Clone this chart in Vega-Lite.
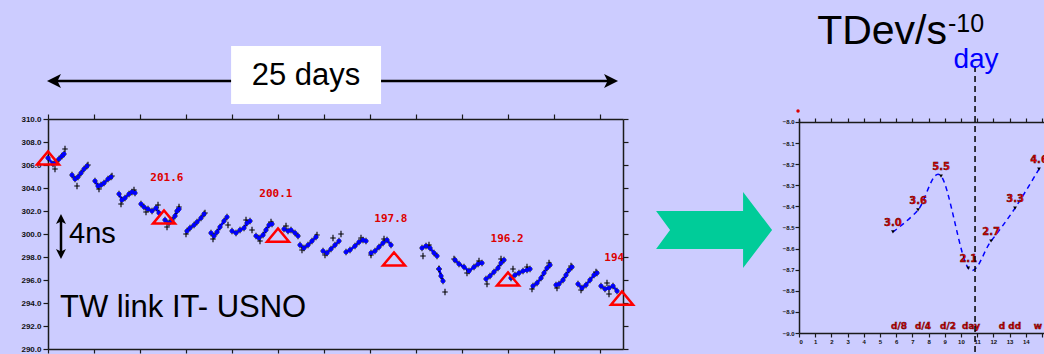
{
  "$schema": "https://vega.github.io/schema/vega-lite/v6.json",
  "background": "#CCCCFF",
  "padding": {"top": 10, "left": 20, "right": 0, "bottom": 0},
  "bounds": "flush",
  "spacing": 176,
  "config": {
    "view": {"stroke": null},
    "font": "Liberation Sans",
    "axis": {"grid": false, "domainColor": "#1a1a1a", "tickColor": "#1a1a1a", "labelColor": "#111111", "labelFont": "Liberation Sans", "labelFontWeight": "bold", "domainWidth": 1.5, "tickWidth": 1.2}
  },
  "datasets": {
    "pts": [
      {"s":0,"d":0,"v":306.61,"k":"b"},{"s":0,"d":0.217,"v":306.09,"k":"b"},{"s":0,"d":0.348,"v":306.26,"k":"b"},{"s":0,"d":0.478,"v":306.52,"k":"b"},{"s":0,"d":0.609,"v":306.78,"k":"b"},{"s":0,"d":0.696,"v":306.96,"k":"b"},{"s":0,"d":0.739,"v":307.39,"k":"x"},{"s":0,"d":0.304,"v":305.65,"k":"x"},
      {"s":1,"d":1.043,"v":305.13,"k":"b"},{"s":1,"d":1.174,"v":304.78,"k":"b"},{"s":1,"d":1.304,"v":304.96,"k":"b"},{"s":1,"d":1.435,"v":305.30,"k":"b"},{"s":1,"d":1.565,"v":305.65,"k":"b"},{"s":1,"d":1.696,"v":305.91,"k":"b"},{"s":1,"d":1.261,"v":304.17,"k":"x"},{"s":1,"d":1.739,"v":306.0,"k":"x"},
      {"s":2,"d":2.043,"v":304.61,"k":"b"},{"s":2,"d":2.174,"v":304.17,"k":"b"},{"s":2,"d":2.304,"v":304.26,"k":"b"},{"s":2,"d":2.435,"v":304.43,"k":"b"},{"s":2,"d":2.609,"v":304.78,"k":"b"},{"s":2,"d":2.739,"v":304.96,"k":"b"},{"s":2,"d":2.217,"v":303.91,"k":"x"},{"s":2,"d":2.783,"v":305.04,"k":"x"},
      {"s":3,"d":3.087,"v":303.48,"k":"b"},{"s":3,"d":3.217,"v":302.96,"k":"b"},{"s":3,"d":3.348,"v":303.13,"k":"b"},{"s":3,"d":3.522,"v":303.48,"k":"b"},{"s":3,"d":3.652,"v":303.65,"k":"b"},{"s":3,"d":3.783,"v":303.57,"k":"b"},{"s":3,"d":3.174,"v":302.61,"k":"x"},{"s":3,"d":3.739,"v":303.83,"k":"x"},
      {"s":4,"d":4.043,"v":302.61,"k":"b"},{"s":4,"d":4.174,"v":302.35,"k":"b"},{"s":4,"d":4.348,"v":302.17,"k":"b"},{"s":4,"d":4.522,"v":302.0,"k":"b"},{"s":4,"d":4.696,"v":302.26,"k":"b"},{"s":4,"d":4.826,"v":301.83,"k":"b"},{"s":4,"d":4.261,"v":301.91,"k":"x"},{"s":4,"d":4.783,"v":302.52,"k":"x"},
      {"s":5,"d":5.087,"v":301.22,"k":"b"},{"s":5,"d":5.261,"v":300.96,"k":"b"},{"s":5,"d":5.391,"v":301.22,"k":"b"},{"s":5,"d":5.522,"v":301.57,"k":"b"},{"s":5,"d":5.609,"v":302.0,"k":"b"},{"s":5,"d":5.696,"v":302.17,"k":"b"},{"s":5,"d":5.696,"v":302.35,"k":"x"},{"s":5,"d":5.174,"v":300.61,"k":"x"},
      {"s":6,"d":6.043,"v":300.26,"k":"b"},{"s":6,"d":6.174,"v":300.52,"k":"b"},{"s":6,"d":6.348,"v":300.78,"k":"b"},{"s":6,"d":6.478,"v":301.04,"k":"b"},{"s":6,"d":6.652,"v":301.39,"k":"b"},{"s":6,"d":6.783,"v":301.74,"k":"b"},{"s":6,"d":6.0,"v":300.0,"k":"x"},{"s":6,"d":6.826,"v":301.83,"k":"x"},
      {"s":7,"d":7.087,"v":300.09,"k":"b"},{"s":7,"d":7.217,"v":299.83,"k":"b"},{"s":7,"d":7.348,"v":300.17,"k":"b"},{"s":7,"d":7.478,"v":300.61,"k":"b"},{"s":7,"d":7.652,"v":301.13,"k":"b"},{"s":7,"d":7.783,"v":301.48,"k":"b"},{"s":7,"d":7.174,"v":299.57,"k":"x"},{"s":7,"d":7.826,"v":300.78,"k":"x"},
      {"s":8,"d":8.0,"v":300.26,"k":"b"},{"s":8,"d":8.174,"v":300.09,"k":"b"},{"s":8,"d":8.348,"v":300.35,"k":"b"},{"s":8,"d":8.522,"v":300.52,"k":"b"},{"s":8,"d":8.652,"v":300.96,"k":"b"},{"s":8,"d":8.783,"v":301.13,"k":"b"},{"s":8,"d":8.609,"v":301.22,"k":"x"},{"s":8,"d":8.870,"v":300.35,"k":"x"},
      {"s":9,"d":9.043,"v":299.83,"k":"b"},{"s":9,"d":9.174,"v":299.65,"k":"b"},{"s":9,"d":9.348,"v":299.91,"k":"b"},{"s":9,"d":9.478,"v":300.35,"k":"b"},{"s":9,"d":9.609,"v":300.78,"k":"b"},{"s":9,"d":9.739,"v":300.87,"k":"b"},{"s":9,"d":9.217,"v":299.39,"k":"x"},{"s":9,"d":9.696,"v":301.04,"k":"x"},
      {"s":10,"d":10.261,"v":300.43,"k":"b"},{"s":10,"d":10.435,"v":300.26,"k":"b"},{"s":10,"d":10.565,"v":300.35,"k":"b"},{"s":10,"d":10.739,"v":300.09,"k":"b"},{"s":10,"d":10.870,"v":299.83,"k":"b"},{"s":10,"d":10.348,"v":300.70,"k":"x"},
      {"s":11,"d":10.957,"v":299.04,"k":"b"},{"s":11,"d":11.130,"v":298.78,"k":"b"},{"s":11,"d":11.304,"v":299.04,"k":"b"},{"s":11,"d":11.478,"v":299.39,"k":"b"},{"s":11,"d":11.652,"v":299.74,"k":"b"},{"s":11,"d":11.043,"v":298.61,"k":"x"},{"s":11,"d":11.696,"v":299.91,"k":"x"},
      {"s":12,"d":11.957,"v":298.52,"k":"b"},{"s":12,"d":12.130,"v":298.35,"k":"b"},{"s":12,"d":12.304,"v":298.70,"k":"b"},{"s":12,"d":12.478,"v":299.04,"k":"b"},{"s":12,"d":12.652,"v":299.39,"k":"b"},{"s":12,"d":12.391,"v":299.65,"k":"x"},{"s":12,"d":12.043,"v":298.17,"k":"x"},
      {"s":13,"d":12.957,"v":298.43,"k":"b"},{"s":13,"d":13.130,"v":298.61,"k":"b"},{"s":13,"d":13.348,"v":298.96,"k":"b"},{"s":13,"d":13.522,"v":299.30,"k":"b"},{"s":13,"d":13.696,"v":299.48,"k":"b"},{"s":13,"d":13.826,"v":299.39,"k":"b"},{"s":13,"d":12.739,"v":300.0,"k":"x"},{"s":13,"d":13.609,"v":299.65,"k":"x"},
      {"s":14,"d":14.043,"v":298.35,"k":"b"},{"s":14,"d":14.217,"v":298.52,"k":"b"},{"s":14,"d":14.391,"v":298.87,"k":"b"},{"s":14,"d":14.565,"v":299.22,"k":"b"},{"s":14,"d":14.739,"v":299.48,"k":"b"},{"s":14,"d":14.913,"v":299.04,"k":"b"},{"s":14,"d":14.609,"v":299.57,"k":"x"},{"s":14,"d":14.043,"v":298.17,"k":"x"},
      {"s":15,"d":16.261,"v":298.78,"k":"b"},{"s":15,"d":16.435,"v":298.96,"k":"b"},{"s":15,"d":16.609,"v":298.78,"k":"b"},{"s":15,"d":16.783,"v":298.35,"k":"b"},{"s":15,"d":16.913,"v":298.09,"k":"b"},{"s":15,"d":16.304,"v":298.09,"k":"x"},{"s":15,"d":16.565,"v":299.04,"k":"x"},
      {"s":16,"d":17.0,"v":296.96,"k":"b"},{"s":16,"d":17.087,"v":296.35,"k":"b"},{"s":16,"d":17.174,"v":295.91,"k":"b"},{"s":16,"d":17.0,"v":296.96,"k":"x"},{"s":16,"d":17.261,"v":294.96,"k":"x"},
      {"s":17,"d":17.696,"v":297.74,"k":"b"},{"s":17,"d":17.870,"v":297.39,"k":"b"},{"s":17,"d":18.087,"v":297.13,"k":"b"},{"s":17,"d":18.304,"v":296.78,"k":"b"},{"s":17,"d":18.522,"v":297.13,"k":"b"},{"s":17,"d":18.696,"v":297.39,"k":"b"},{"s":17,"d":18.870,"v":297.48,"k":"b"},{"s":17,"d":17.652,"v":297.83,"k":"x"},{"s":17,"d":18.217,"v":296.61,"k":"x"},{"s":17,"d":18.739,"v":297.65,"k":"x"},
      {"s":18,"d":19.043,"v":296.09,"k":"b"},{"s":18,"d":19.217,"v":296.35,"k":"b"},{"s":18,"d":19.391,"v":296.70,"k":"b"},{"s":18,"d":19.565,"v":297.04,"k":"b"},{"s":18,"d":19.696,"v":297.48,"k":"b"},{"s":18,"d":19.826,"v":297.74,"k":"b"},{"s":18,"d":19.087,"v":295.65,"k":"x"},{"s":18,"d":19.696,"v":297.83,"k":"x"},
      {"s":19,"d":20.130,"v":296.17,"k":"b"},{"s":19,"d":20.304,"v":296.43,"k":"b"},{"s":19,"d":20.478,"v":296.61,"k":"b"},{"s":19,"d":20.652,"v":296.78,"k":"b"},{"s":19,"d":20.826,"v":296.87,"k":"b"},{"s":19,"d":20.957,"v":296.96,"k":"b"},{"s":19,"d":20.217,"v":296.96,"k":"x"},{"s":19,"d":20.826,"v":297.13,"k":"x"},
      {"s":20,"d":21.087,"v":295.48,"k":"b"},{"s":20,"d":21.261,"v":295.74,"k":"b"},{"s":20,"d":21.435,"v":296.17,"k":"b"},{"s":20,"d":21.565,"v":296.61,"k":"b"},{"s":20,"d":21.696,"v":297.04,"k":"b"},{"s":20,"d":21.826,"v":297.30,"k":"b"},{"s":20,"d":21.043,"v":295.22,"k":"x"},{"s":20,"d":21.783,"v":297.48,"k":"x"},
      {"s":21,"d":22.087,"v":295.57,"k":"b"},{"s":21,"d":22.217,"v":295.65,"k":"b"},{"s":21,"d":22.391,"v":296.0,"k":"b"},{"s":21,"d":22.522,"v":296.43,"k":"b"},{"s":21,"d":22.652,"v":296.87,"k":"b"},{"s":21,"d":22.783,"v":297.13,"k":"b"},{"s":21,"d":22.130,"v":295.30,"k":"x"},{"s":21,"d":22.739,"v":297.22,"k":"x"},
      {"s":22,"d":23.043,"v":295.65,"k":"b"},{"s":22,"d":23.217,"v":295.30,"k":"b"},{"s":22,"d":23.391,"v":295.57,"k":"b"},{"s":22,"d":23.565,"v":296.0,"k":"b"},{"s":22,"d":23.739,"v":296.43,"k":"b"},{"s":22,"d":23.870,"v":296.61,"k":"b"},{"s":22,"d":23.174,"v":295.13,"k":"x"},{"s":22,"d":23.826,"v":296.70,"k":"x"},
      {"s":23,"d":24.043,"v":295.48,"k":"b"},{"s":23,"d":24.217,"v":295.22,"k":"b"},{"s":23,"d":24.391,"v":295.30,"k":"b"},{"s":23,"d":24.565,"v":295.48,"k":"b"},{"s":23,"d":24.739,"v":295.04,"k":"b"},{"s":23,"d":24.304,"v":295.74,"k":"x"},{"s":23,"d":24.391,"v":294.78,"k":"x"}
    ],
    "tri": [
      {"d":0,"v":306.61},{"d":5.043,"v":301.48},{"d":10.0,"v":299.91},{"d":15.043,"v":297.83},{"d":20.0,"v":296.09},{"d":24.957,"v":294.43}
    ],
    "lab": [
      {"d":5.17,"v":304.87,"t":"201.6"},{"d":9.91,"v":303.48,"t":"200.1"},{"d":14.91,"v":301.30,"t":"197.8"},{"d":19.96,"v":299.57,"t":"196.2"},{"d":24.62,"v":297.91,"t":"194"}
    ],
    "tdev": [
      {"x":5.80,"y":-8.521,"t":"3.0"},{"x":7.35,"y":-8.417,"t":"3.6"},{"x":8.77,"y":-8.256,"t":"5.5"},{"x":10.45,"y":-8.692,"t":"2.1"},{"x":11.86,"y":-8.564,"t":"2.7"},{"x":13.34,"y":-8.408,"t":"3.3"},{"x":14.82,"y":-8.223,"t":"4.6"}
    ],
    "tau": [
      {"x":6.18,"y":-8.967,"t":"d/8"},{"x":7.66,"y":-8.967,"t":"d/4"},{"x":9.2,"y":-8.967,"t":"d/2"},{"x":10.62,"y":-8.967,"t":"day"},{"x":13.03,"y":-8.967,"t":"d dd"},{"x":14.95,"y":-8.967,"t":"w l"}
    ]
  },
  "hconcat": [
    {
      "width": 575,
      "height": 230,
      "resolve": {"axis": {"x": "independent", "y": "independent"}},
      "layer": [
        {
          "data": {"name": "pts"},
          "mark": {"type": "line", "color": "#0000ff", "strokeWidth": 2.5},
          "transform": [{"filter": "datum.k == 'b'"}],
          "encoding": {
            "x": {"field": "d", "type": "quantitative", "scale": {"domain": [0, 25], "nice": false, "zero": false},
                  "axis": {"orient": "bottom", "title": null, "values": [0,2,4,6,8,10,12,14,16,18,20,22,24], "format": ".1f", "labelFontSize": 7, "tickSize": 4, "labelPadding": 1}},
            "y": {"field": "v", "type": "quantitative", "scale": {"domain": [290, 310], "nice": false, "zero": false},
                  "axis": {"orient": "left", "title": null, "values": [290,292,294,296,298,300,302,304,306,308,310], "format": ".1f", "labelFontSize": 8, "tickSize": 5, "labelPadding": 2}},
            "detail": {"field": "s", "type": "nominal"}
          }
        },
        {
          "data": {"name": "pts"},
          "mark": {"type": "point", "shape": "M -1 0 L 1 0 M 0 -1.2 L 0 1.2", "size": 30, "stroke": "#000000", "strokeWidth": 1.1, "filled": false, "opacity": 1},
          "encoding": {
            "x": {"field": "d", "type": "quantitative", "scale": {"domain": [0, 25], "nice": false, "zero": false},
                  "axis": {"orient": "top", "title": null, "values": [0,2,4,6,8,10,12,14,16,18,20,22,24], "labels": false, "tickSize": 5}},
            "y": {"field": "v", "type": "quantitative", "scale": {"domain": [290, 310], "nice": false, "zero": false},
                  "axis": {"orient": "right", "title": null, "values": [290,292,294,296,298,300,302,304,306,308,310], "labels": false, "tickSize": 5}}
          }
        },
        {
          "data": {"name": "pts"},
          "transform": [{"filter": "datum.k == 'b'"}],
          "mark": {"type": "point", "shape": "square", "size": 14, "filled": true, "color": "#0000ff", "opacity": 1},
          "encoding": {
            "x": {"field": "d", "type": "quantitative", "scale": {"domain": [0, 25], "nice": false, "zero": false}, "axis": null},
            "y": {"field": "v", "type": "quantitative", "scale": {"domain": [290, 310], "nice": false, "zero": false}, "axis": null}
          }
        },
        {
          "data": {"name": "tri"},
          "mark": {"type": "point", "shape": "M -1 0.6 L 1 0.6 L 0 -0.6 Z", "size": 484, "filled": false, "stroke": "#ff0000", "strokeWidth": 2.5, "opacity": 1},
          "encoding": {
            "x": {"field": "d", "type": "quantitative", "scale": {"domain": [0, 25], "nice": false, "zero": false}, "axis": null},
            "y": {"field": "v", "type": "quantitative", "scale": {"domain": [290, 310], "nice": false, "zero": false}, "axis": null}
          }
        },
        {
          "data": {"name": "lab"},
          "mark": {"type": "text", "font": "DejaVu Sans Mono", "fontWeight": "bold", "fontSize": 11, "color": "#dd0000", "align": "center", "baseline": "middle", "clip": true},
          "encoding": {
            "x": {"field": "d", "type": "quantitative", "scale": {"domain": [0, 25], "nice": false, "zero": false}, "axis": null},
            "y": {"field": "v", "type": "quantitative", "scale": {"domain": [290, 310], "nice": false, "zero": false}, "axis": null},
            "text": {"field": "t"}
          }
        },
        {
          "data": {"values": [{"d1": 7.96, "d2": 14.48, "v1": 316.35, "v2": 311.30}]},
          "mark": {"type": "rect", "color": "#ffffff"},
          "encoding": {
            "x": {"field": "d1", "type": "quantitative", "scale": {"domain": [0, 25], "nice": false, "zero": false}, "axis": null},
            "x2": {"field": "d2"},
            "y": {"field": "v1", "type": "quantitative", "scale": {"domain": [290, 310], "nice": false, "zero": false}, "axis": null},
            "y2": {"field": "v2"}
          }
        },
        {
          "data": {"values": [{"d1": 0.3, "d2": 7.96, "v": 313.30}, {"d1": 14.48, "d2": 24.5, "v": 313.30}]},
          "mark": {"type": "rule", "color": "#000000", "strokeWidth": 2.5},
          "encoding": {
            "x": {"field": "d1", "type": "quantitative", "scale": {"domain": [0, 25], "nice": false, "zero": false}, "axis": null},
            "x2": {"field": "d2"},
            "y": {"field": "v", "type": "quantitative", "scale": {"domain": [290, 310], "nice": false, "zero": false}, "axis": null}
          }
        },
        {
          "data": {"values": [{"d": 0.26, "v": 313.30}]},
          "mark": {"type": "point", "shape": "M -1 0 L 1 -1 L 0.5 0 L 1 1 Z", "size": 196, "filled": true, "color": "#000000", "opacity": 1},
          "encoding": {
            "x": {"field": "d", "type": "quantitative", "scale": {"domain": [0, 25], "nice": false, "zero": false}, "axis": null},
            "y": {"field": "v", "type": "quantitative", "scale": {"domain": [290, 310], "nice": false, "zero": false}, "axis": null}
          }
        },
        {
          "data": {"values": [{"d": 24.48, "v": 313.30}]},
          "mark": {"type": "point", "shape": "M 1 0 L -1 -1 L -0.5 0 L -1 1 Z", "size": 196, "filled": true, "color": "#000000", "opacity": 1},
          "encoding": {
            "x": {"field": "d", "type": "quantitative", "scale": {"domain": [0, 25], "nice": false, "zero": false}, "axis": null},
            "y": {"field": "v", "type": "quantitative", "scale": {"domain": [290, 310], "nice": false, "zero": false}, "axis": null}
          }
        },
        {
          "data": {"values": [{"d": 0.565, "v1": 301.3, "v2": 298.26}]},
          "mark": {"type": "rule", "color": "#000000", "strokeWidth": 2.5},
          "encoding": {
            "x": {"field": "d", "type": "quantitative", "scale": {"domain": [0, 25], "nice": false, "zero": false}, "axis": null},
            "y": {"field": "v1", "type": "quantitative", "scale": {"domain": [290, 310], "nice": false, "zero": false}, "axis": null},
            "y2": {"field": "v2"}
          }
        },
        {
          "data": {"values": [{"d": 0.565, "v": 301.30}]},
          "mark": {"type": "point", "shape": "M 0 -1 L 1 1 L 0 0.5 L -1 1 Z", "size": 100, "filled": true, "color": "#000000", "opacity": 1},
          "encoding": {
            "x": {"field": "d", "type": "quantitative", "scale": {"domain": [0, 25], "nice": false, "zero": false}, "axis": null},
            "y": {"field": "v", "type": "quantitative", "scale": {"domain": [290, 310], "nice": false, "zero": false}, "axis": null}
          }
        },
        {
          "data": {"values": [{"d": 0.565, "v": 298.26}]},
          "mark": {"type": "point", "shape": "M 0 1 L 1 -1 L 0 -0.5 L -1 -1 Z", "size": 100, "filled": true, "color": "#000000", "opacity": 1},
          "encoding": {
            "x": {"field": "d", "type": "quantitative", "scale": {"domain": [0, 25], "nice": false, "zero": false}, "axis": null},
            "y": {"field": "v", "type": "quantitative", "scale": {"domain": [290, 310], "nice": false, "zero": false}, "axis": null}
          }
        },
        {
          "data": {"values": [{"d": 11.22, "v": 313.74, "t": "25 days", "a": "center", "fs": 31}, {"d": 0.913, "v": 300.0, "t": "4ns", "a": "left", "fs": 29}, {"d": 0.52, "v": 293.57, "t": "TW link IT- USNO", "a": "left", "fs": 31}]},
          "mark": {"type": "text", "font": "Liberation Sans", "color": "#000000", "baseline": "middle", "align": {"expr": "datum.a"}, "fontSize": {"expr": "datum.fs"}},
          "encoding": {
            "x": {"field": "d", "type": "quantitative", "scale": {"domain": [0, 25], "nice": false, "zero": false}, "axis": null},
            "y": {"field": "v", "type": "quantitative", "scale": {"domain": [290, 310], "nice": false, "zero": false}, "axis": null},
            "text": {"field": "t"}
          }
        },
        {
          "data": {"values": [{"d": 28.96, "v": 300.35}]},
          "mark": {"type": "point", "shape": "M -1 -0.328 L 0.5 -0.328 L 0.5 -0.655 L 1 0 L 0.5 0.655 L 0.5 0.328 L -1 0.328 L -0.759 0 Z", "size": 13456, "filled": true, "color": "#00CC99", "opacity": 1},
          "encoding": {
            "x": {"field": "d", "type": "quantitative", "scale": {"domain": [0, 25], "nice": false, "zero": false}, "axis": null},
            "y": {"field": "v", "type": "quantitative", "scale": {"domain": [290, 310], "nice": false, "zero": false}, "axis": null}
          }
        }
      ]
    },
    {
      "width": 246,
      "height": 214,
      "resolve": {"axis": {"x": "independent", "y": "independent"}},
      "layer": [
        {
          "data": {"name": "tdev"},
          "mark": {"type": "line", "interpolate": "cardinal", "color": "#0000ff", "strokeWidth": 1.5, "strokeDash": [5, 4]},
          "encoding": {
            "x": {"field": "x", "type": "quantitative", "scale": {"domain": [0, 15.19], "nice": false, "zero": false},
                  "axis": {"orient": "bottom", "title": null, "values": [0,1,2,3,4,5,6,7,8,9,10,11,12,13,14,15], "format": "d", "labelFontSize": 6, "tickSize": 4, "labelPadding": 1, "labelExpr": "datum.value >= 15 ? '' : datum.label"}},
            "y": {"field": "y", "type": "quantitative", "scale": {"domain": [-9, -7.9858], "nice": false, "zero": false},
                  "axis": {"orient": "left", "title": null, "values": [-9,-8.9,-8.8,-8.7,-8.6,-8.5,-8.4,-8.3,-8.2,-8.1,-8.0], "format": ".1f", "labelFontSize": 6, "tickSize": 4, "labelPadding": 1}}
          }
        },
        {
          "data": {"name": "tdev"},
          "mark": {"type": "point", "shape": "triangle-down", "size": 14, "filled": true, "color": "#000000", "opacity": 1},
          "encoding": {
            "x": {"field": "x", "type": "quantitative", "scale": {"domain": [0, 15.19], "nice": false, "zero": false},
                  "axis": {"orient": "top", "title": null, "values": [0,1,2,3,4,5,6,7,8,9,10,11,12,13,14,15], "labels": false, "tickSize": 4, "offset": -3}},
            "y": {"field": "y", "type": "quantitative", "scale": {"domain": [-9, -7.9858], "nice": false, "zero": false}, "axis": null}
          }
        },
        {
          "data": {"name": "tdev"},
          "mark": {"type": "text", "dy": -9, "fontSize": 10, "fontWeight": "bold", "font": "DejaVu Sans", "color": "#dd0000", "stroke": "#400000", "strokeWidth": 0.4, "clip": true},
          "encoding": {
            "x": {"field": "x", "type": "quantitative", "scale": {"domain": [0, 15.19], "nice": false, "zero": false}, "axis": null},
            "y": {"field": "y", "type": "quantitative", "scale": {"domain": [-9, -7.9858], "nice": false, "zero": false}, "axis": null},
            "text": {"field": "t"}
          }
        },
        {
          "data": {"name": "tau"},
          "mark": {"type": "text", "fontSize": 9, "fontWeight": "bold", "font": "DejaVu Sans", "color": "#dd0000", "stroke": "#400000", "strokeWidth": 0.4, "clip": true},
          "encoding": {
            "x": {"field": "x", "type": "quantitative", "scale": {"domain": [0, 15.19], "nice": false, "zero": false}, "axis": null},
            "y": {"field": "y", "type": "quantitative", "scale": {"domain": [-9, -7.9858], "nice": false, "zero": false}, "axis": null},
            "text": {"field": "t"}
          }
        },
        {
          "data": {"values": [{"x": 10.87, "y1": -7.735, "y2": -9.104}]},
          "mark": {"type": "rule", "color": "#000000", "strokeWidth": 1.5, "strokeDash": [6, 4]},
          "encoding": {
            "x": {"field": "x", "type": "quantitative", "scale": {"domain": [0, 15.19], "nice": false, "zero": false}, "axis": null},
            "y": {"field": "y1", "type": "quantitative", "scale": {"domain": [-9, -7.9858], "nice": false, "zero": false}, "axis": null},
            "y2": {"field": "y2"}
          }
        },
        {
          "data": {"values": [{"x": -0.06, "y": -7.948}]},
          "mark": {"type": "point", "shape": "circle", "size": 12, "filled": true, "color": "#dd0000", "opacity": 1},
          "encoding": {
            "x": {"field": "x", "type": "quantitative", "scale": {"domain": [0, 15.19], "nice": false, "zero": false}, "axis": null},
            "y": {"field": "y", "type": "quantitative", "scale": {"domain": [-9, -7.9858], "nice": false, "zero": false}, "axis": null}
          }
        },
        {
          "data": {"values": [
            {"x": 9.14, "y": -7.630, "t": "TDev/s", "a": "right", "fs": 41, "c": "#000000"},
            {"x": 9.2, "y": -7.573, "t": "-10", "a": "left", "fs": 25, "c": "#000000"},
            {"x": 10.93, "y": -7.744, "t": "day", "a": "center", "fs": 28, "c": "#0000ff"}
          ]},
          "mark": {"type": "text", "font": "Liberation Sans", "baseline": "alphabetic", "align": {"expr": "datum.a"}, "fontSize": {"expr": "datum.fs"}, "fill": {"expr": "datum.c"}},
          "encoding": {
            "x": {"field": "x", "type": "quantitative", "scale": {"domain": [0, 15.19], "nice": false, "zero": false}, "axis": null},
            "y": {"field": "y", "type": "quantitative", "scale": {"domain": [-9, -7.9858], "nice": false, "zero": false}, "axis": null},
            "text": {"field": "t"}
          }
        }
      ]
    }
  ]
}
